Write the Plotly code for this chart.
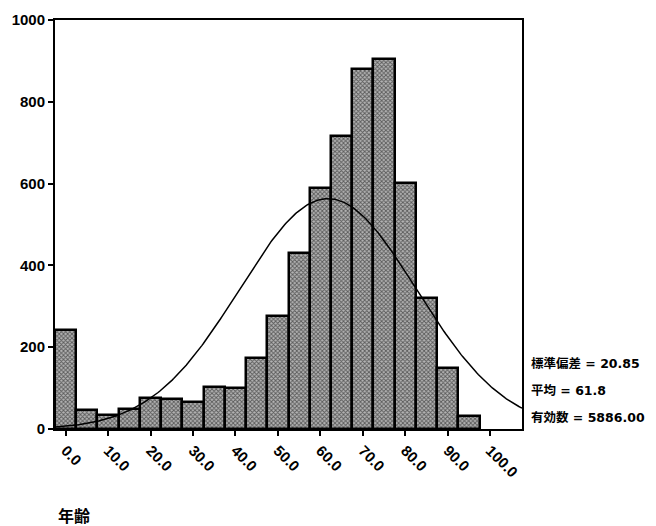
import numpy as np
import plotly.graph_objects as go

# ---- data ----
bin_centers = [0, 5, 10, 15, 20, 25, 30, 35, 40, 45, 50, 55, 60, 65, 70, 75, 80, 85, 90, 95]
counts = [242, 46, 34, 48, 76, 74, 67, 103, 100, 173, 276, 430, 590, 717, 880, 904, 601, 321, 148, 31]
x_tick_vals = [0, 10, 20, 30, 40, 50, 60, 70, 80, 90, 100]
x_tick_text = ["0.0", "10.0", "20.0", "30.0", "40.0", "50.0", "60.0", "70.0", "80.0", "90.0", "100.0"]
y_tick_vals = [0, 200, 400, 600, 800, 1000]
stat_sd = 20.85
stat_mean = 61.8
stat_n = 5886.00
bin_width = 5
stat_labels = ["標準偏差 = 20.85", "平均 = 61.8", "有効数 = 5886.00"]
x_title = "年齢"

# normal curve fitted with the displayed statistics
cx = np.linspace(-2.5, 107.5, 300)
cy = stat_n * bin_width / (stat_sd * np.sqrt(2 * np.pi)) * np.exp(-0.5 * ((cx - stat_mean) / stat_sd) ** 2)

W, H = 648, 518
L, R, T, B = 47, 134, 12, 97
PW, PH = W - L - R, H - T - B

fig = go.Figure()
fig.add_trace(go.Bar(
    x=bin_centers, y=counts, width=bin_width,
    marker=dict(
        color="#808080",
        line=dict(color="black", width=2.5),
        pattern=dict(shape="x", fgcolor="#000000", bgcolor="#b4b4b4", size=3, solidity=0.5),
    ),
    showlegend=False,
))
fig.add_trace(go.Scatter(
    x=cx, y=cy, mode="lines", line=dict(color="black", width=1.5), showlegend=False,
))

tickfont = dict(family="Liberation Sans, Arial", size=15, color="black", weight="bold")

fig.update_layout(
    width=W, height=H,
    margin=dict(l=L, r=R, t=T, b=B),
    plot_bgcolor="white", paper_bgcolor="white",
    bargap=0,
    xaxis=dict(
        range=[-2.5, 107.5], tickvals=x_tick_vals, ticktext=x_tick_text,
        tickangle=45, ticks="outside", ticklen=5, tickwidth=1.5, tickcolor="black",
        showline=True, linecolor="black", linewidth=2, mirror=True, automargin=False,
        showgrid=False, zeroline=False, tickfont=tickfont,
    ),
    yaxis=dict(
        range=[0, 1000], tickvals=y_tick_vals,
        ticks="outside", ticklen=5, tickwidth=1.5, tickcolor="black",
        showline=True, linecolor="black", linewidth=2, mirror=True, automargin=False,
        showgrid=False, zeroline=False, tickfont=tickfont,
    ),
)

# positions in figure pixels (page offset of 8px removed)
stat_y = [355, 382, 409]
for lbl, py in zip(stat_labels, stat_y):
    fig.add_annotation(
        text=lbl, xref="paper", yref="paper",
        x=(521 - L) / PW, y=(H - B - py) / PH,
        xanchor="left", yanchor="middle", showarrow=False,
        font=dict(family="DejaVu Sans, Noto Sans CJK JP", size=12.5, color="black", weight="bold"),
    )

fig.add_annotation(
    text=x_title, xref="paper", yref="paper",
    x=(48 - L) / PW, y=(H - B - 507) / PH,
    xanchor="left", yanchor="middle", showarrow=False,
    font=dict(family="Noto Sans CJK JP", size=16, color="black", weight="bold"),
)

fig.write_html("out.html")
